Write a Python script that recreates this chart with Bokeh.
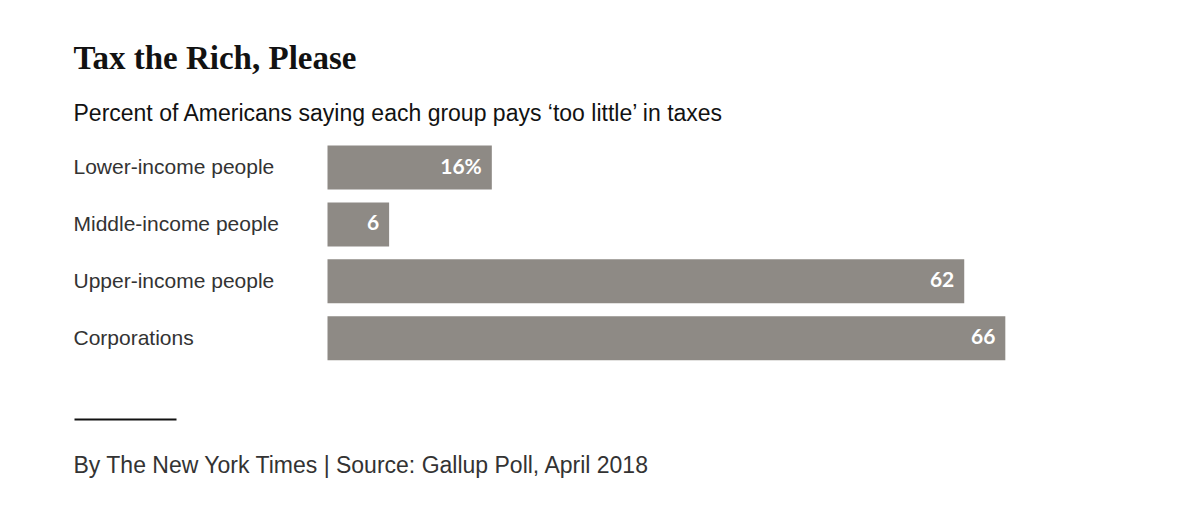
from bokeh.plotting import figure
from bokeh.models import ColumnDataSource, Range1d, Label, LabelSet, BoxAnnotation
from bokeh.core.properties import value
from bokeh.embed import file_html
from bokeh.resources import INLINE

# ---- data ----
categories = ["Lower-income people", "Middle-income people", "Upper-income people", "Corporations"]
values = [16, 6, 62, 66]
value_labels = ["16%", "6", "62", "66"]

title_text = "Tax the Rich, Please"
subtitle_text = "Percent of Americans saying each group pays \u2018too little\u2019 in taxes"
footer_text = "By The New York Times | Source: Gallup Poll, April 2018"

W, H = 1184, 504
PX_PER_UNIT = 10.27
ZERO_X = 327          # pixel of value 0
ROW_PX = 56.9         # pixel pitch between bars
FIRST_ROW_Y = 167     # pixel (from top) of first bar center
LEFT = 73

idx = list(range(len(categories)))
src = ColumnDataSource(dict(idx=idx, cat=categories, val=values, lab=value_labels))

p = figure(width=W, height=H, output_backend="svg", toolbar_location=None,
           x_range=Range1d(-ZERO_X / PX_PER_UNIT, (W - ZERO_X) / PX_PER_UNIT),
           y_range=Range1d((H - FIRST_ROW_Y) / ROW_PX, -FIRST_ROW_Y / ROW_PX),
           min_border=0, min_border_left=0, min_border_right=0,
           min_border_top=0, min_border_bottom=0)
p.xaxis.visible = False
p.yaxis.visible = False
p.grid.visible = False
p.outline_line_color = None
p.background_fill_color = "white"
p.border_fill_color = "white"

p.hbar(y="idx", right="val", left=0, height=44 / ROW_PX, source=src,
       fill_color="#8e8a85", line_color=None)

p.add_layout(LabelSet(x="val", y="idx", text="lab", source=src, x_offset=-10, y_offset=2,
                      text_align="right", text_baseline="middle",
                      text_color="white", text_font=value("Lato"), text_font_style="bold",
                      text_font_size="21px"))

p.add_layout(LabelSet(x=LEFT, x_units="screen", y="idx", text="cat", source=src,
                      y_offset=1, text_align="left", text_baseline="middle",
                      text_color="#333333", text_font=value("Liberation Sans"),
                      text_font_size="21px"))

def scr_y(ref_y):
    return 512 - ref_y

p.add_layout(Label(x=LEFT, y=scr_y(65), x_units="screen", y_units="screen",
                   text=title_text, text_font="Liberation Serif", text_font_style="bold",
                   text_font_size="33px", text_color="#121212",
                   text_baseline="alphabetic", text_align="left"))

p.add_layout(Label(x=LEFT, y=scr_y(120), x_units="screen", y_units="screen",
                   text=subtitle_text, text_font="Liberation Sans",
                   text_font_size="23px", text_color="#121212",
                   text_baseline="alphabetic", text_align="left"))

p.add_layout(Label(x=LEFT, y=scr_y(472), x_units="screen", y_units="screen",
                   text=footer_text, text_font="Liberation Sans",
                   text_font_size="23px", text_color="#333333",
                   text_baseline="alphabetic", text_align="left"))

p.add_layout(BoxAnnotation(left=LEFT + 1, right=176, bottom=H - 420, top=H - 418,
                           left_units="screen", right_units="screen",
                           bottom_units="screen", top_units="screen",
                           fill_color="#121212", fill_alpha=1, line_color=None))

open("out.html", "w").write(file_html(p, INLINE))
